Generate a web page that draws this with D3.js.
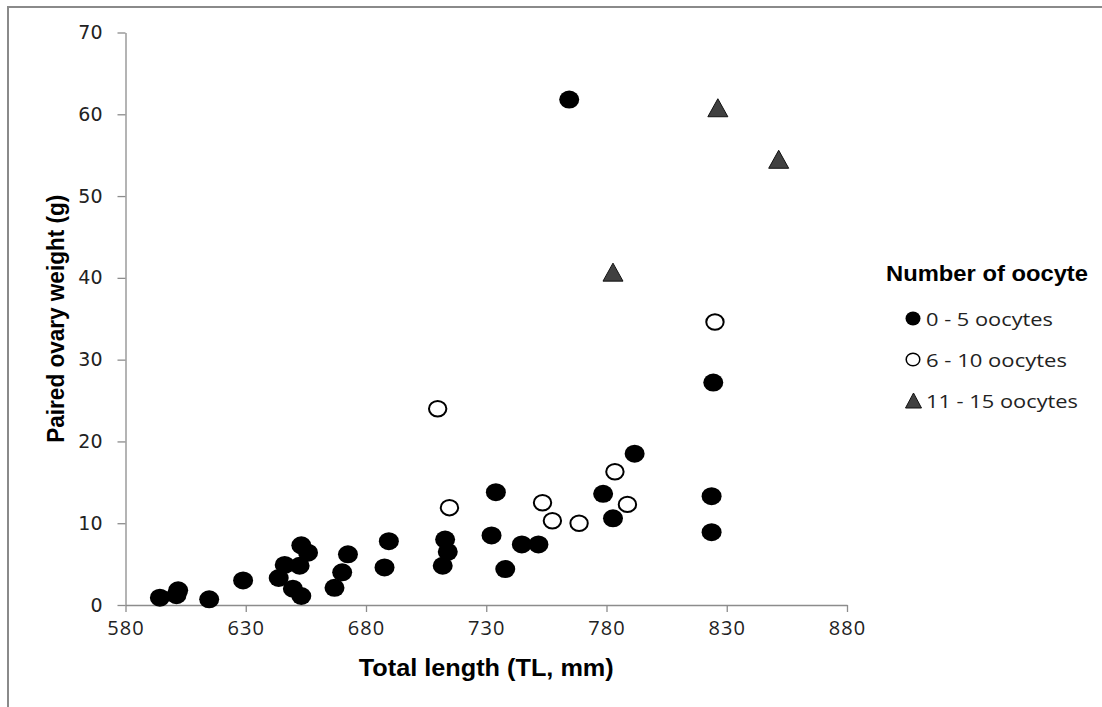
<!DOCTYPE html>
<html>
<head>
<meta charset="utf-8">
<script src="https://cdn.jsdelivr.net/npm/d3@7"></script>
<style>
  body { margin: 0; background: #fff; }
</style>
</head>
<body>
<div id="chart"></div>
<script>
//Data: total length (mm) and paired ovary weight (g)
var lowX  = [594.3, 601.2, 601.9, 614.8, 628.9, 643.7, 646.2, 652.4, 653.1, 655.9, 649.6, 653.1,
             666.9, 670.1, 672.5, 687.7, 689.5, 712.9, 714.0, 711.9, 734.0, 732.2, 824.4, 791.7,
             744.8, 751.7, 737.9, 778.6, 782.7, 823.7, 823.7, 764.5];
var lowY  = [0.9, 1.2, 1.8, 0.7, 3.0, 3.3, 4.9, 4.8, 7.3, 6.4, 2.0, 1.1,
             2.1, 4.0, 6.2, 4.6, 7.8, 8.0, 6.5, 4.8, 13.8, 8.5, 27.2, 18.5,
             7.4, 7.4, 4.4, 13.6, 10.6, 13.3, 8.9, 61.8];
var midX  = [709.8, 714.7, 783.5, 753.4, 757.5, 768.6, 788.7, 825.1];
var midY  = [24.0, 11.9, 16.3, 12.5, 10.3, 10.0, 12.3, 34.6];
var highX = [826.3, 851.6, 782.7];
var highY = [60.8, 54.5, 40.7];

var xTicks = [580, 630, 680, 730, 780, 830, 880];
var yTicks = [0, 10, 20, 30, 40, 50, 60, 70];
var legendLabels = ["0 - 5 oocytes", "6 - 10 oocytes", "11 - 15 oocytes"];

var width = 1102, height = 707;

var svg = d3.select("#chart")
    .append("svg")
    .attr("width", width)
    .attr("height", height);

//Outer frame (left and top edges only are visible)
svg.append("path")
    .attr("d", "M8,707 L8,7 L1102,7")
    .attr("fill", "none")
    .attr("stroke", "#8a8a8a")
    .attr("stroke-width", 2);

//Scales
var x = d3.scaleLinear().domain([580, 880]).range([125.5, 847]);
var y = d3.scaleLinear().domain([0, 70]).range([605, 32.5]);

//X axis
var xAxis = svg.append("g")
    .attr("transform", "translate(0," + y(0) + ")")
    .call(d3.axisBottom(x).tickValues(xTicks).tickSize(7).tickSizeOuter(0).tickPadding(9));
xAxis.selectAll("line, path").attr("stroke", "#8c8c8c").attr("stroke-width", 1.3);
xAxis.selectAll("text")
    .style("font-family", "'Open Sans', sans-serif")
    .style("font-size", "20px")
    .style("letter-spacing", "1px")
    .attr("fill", "#222");

//Y axis
var yAxis = svg.append("g")
    .attr("transform", "translate(" + x(580) + ",0)")
    .call(d3.axisLeft(y).tickValues(yTicks).tickSize(8).tickSizeOuter(0).tickPadding(15));
yAxis.selectAll("line, path").attr("stroke", "#8c8c8c").attr("stroke-width", 1.3);
yAxis.selectAll("text")
    .style("font-family", "'DejaVu Sans', sans-serif")
    .style("font-size", "19px")
    .attr("fill", "#222");

//Axis titles
svg.append("text")
    .attr("x", (x(580) + x(880)) / 2)
    .attr("y", 676)
    .attr("text-anchor", "middle")
    .attr("textLength", 255)
    .attr("lengthAdjust", "spacingAndGlyphs")
    .style("font-family", "'Liberation Sans', Arial, sans-serif")
    .style("font-weight", "bold")
    .style("font-size", "23px")
    .text("Total length (TL, mm)");

svg.append("text")
    .attr("transform", "translate(64," + ((y(0) + y(70)) / 2) + ") scale(1.08,1) rotate(-90)")
    .attr("text-anchor", "middle")
    .attr("textLength", 248)
    .attr("lengthAdjust", "spacingAndGlyphs")
    .style("font-family", "'Liberation Sans', Arial, sans-serif")
    .style("font-weight", "bold")
    .style("font-size", "23px")
    .text("Paired ovary weight (g)");

//Triangle path centred on a point
var triangle = function(cx, cy, w, h) {
    return "M" + cx + "," + (cy - h / 2) +
           "L" + (cx + w / 2) + "," + (cy + h / 2) +
           "L" + (cx - w / 2) + "," + (cy + h / 2) + "Z";
};

//0 - 5 oocytes: filled circles
svg.append("g").selectAll("ellipse")
    .data(d3.range(lowX.length))
    .enter()
    .append("ellipse")
    .attr("cx", function(i) { return x(lowX[i]); })
    .attr("cy", function(i) { return y(lowY[i]); })
    .attr("rx", 10)
    .attr("ry", 9)
    .attr("fill", "#000");

//6 - 10 oocytes: open circles
svg.append("g").selectAll("ellipse")
    .data(d3.range(midX.length))
    .enter()
    .append("ellipse")
    .attr("cx", function(i) { return x(midX[i]); })
    .attr("cy", function(i) { return y(midY[i]); })
    .attr("rx", 8.7)
    .attr("ry", 7.7)
    .attr("fill", "#fff")
    .attr("stroke", "#000")
    .attr("stroke-width", 2);

//11 - 15 oocytes: triangles
svg.append("g").selectAll("path")
    .data(d3.range(highX.length))
    .enter()
    .append("path")
    .attr("d", function(i) { return triangle(x(highX[i]), y(highY[i]), 20, 18); })
    .attr("fill", "#404040")
    .attr("stroke", "#111")
    .attr("stroke-width", 1);

//Legend
var legend = svg.append("g");
legend.append("text")
    .attr("x", 886)
    .attr("y", 281)
    .attr("textLength", 202)
    .attr("lengthAdjust", "spacingAndGlyphs")
    .style("font-family", "'Liberation Sans', Arial, sans-serif")
    .style("font-weight", "bold")
    .style("font-size", "22px")
    .text("Number of oocyte");

var legendY = [318.5, 359.5, 400.5],
    legendWidths = [127, 141, 152];

legend.append("ellipse")
    .attr("cx", 913).attr("cy", legendY[0])
    .attr("rx", 7.5).attr("ry", 7)
    .attr("fill", "#000");
legend.append("ellipse")
    .attr("cx", 913).attr("cy", legendY[1])
    .attr("rx", 6.8).attr("ry", 6.3)
    .attr("fill", "#fff")
    .attr("stroke", "#000")
    .attr("stroke-width", 1.5);
legend.append("path")
    .attr("d", triangle(913.5, legendY[2], 16, 15))
    .attr("fill", "#404040")
    .attr("stroke", "#111")
    .attr("stroke-width", 1);

legend.selectAll("text.item")
    .data(legendLabels)
    .enter()
    .append("text")
    .attr("class", "item")
    .attr("x", 926)
    .attr("y", function(d, i) { return legendY[i] + 7; })
    .attr("textLength", function(d, i) { return legendWidths[i]; })
    .attr("lengthAdjust", "spacingAndGlyphs")
    .style("font-family", "'Open Sans', sans-serif")
    .style("font-size", "19px")
    .attr("fill", "#222")
    .text(function(d) { return d; });
</script>
</body>
</html>
